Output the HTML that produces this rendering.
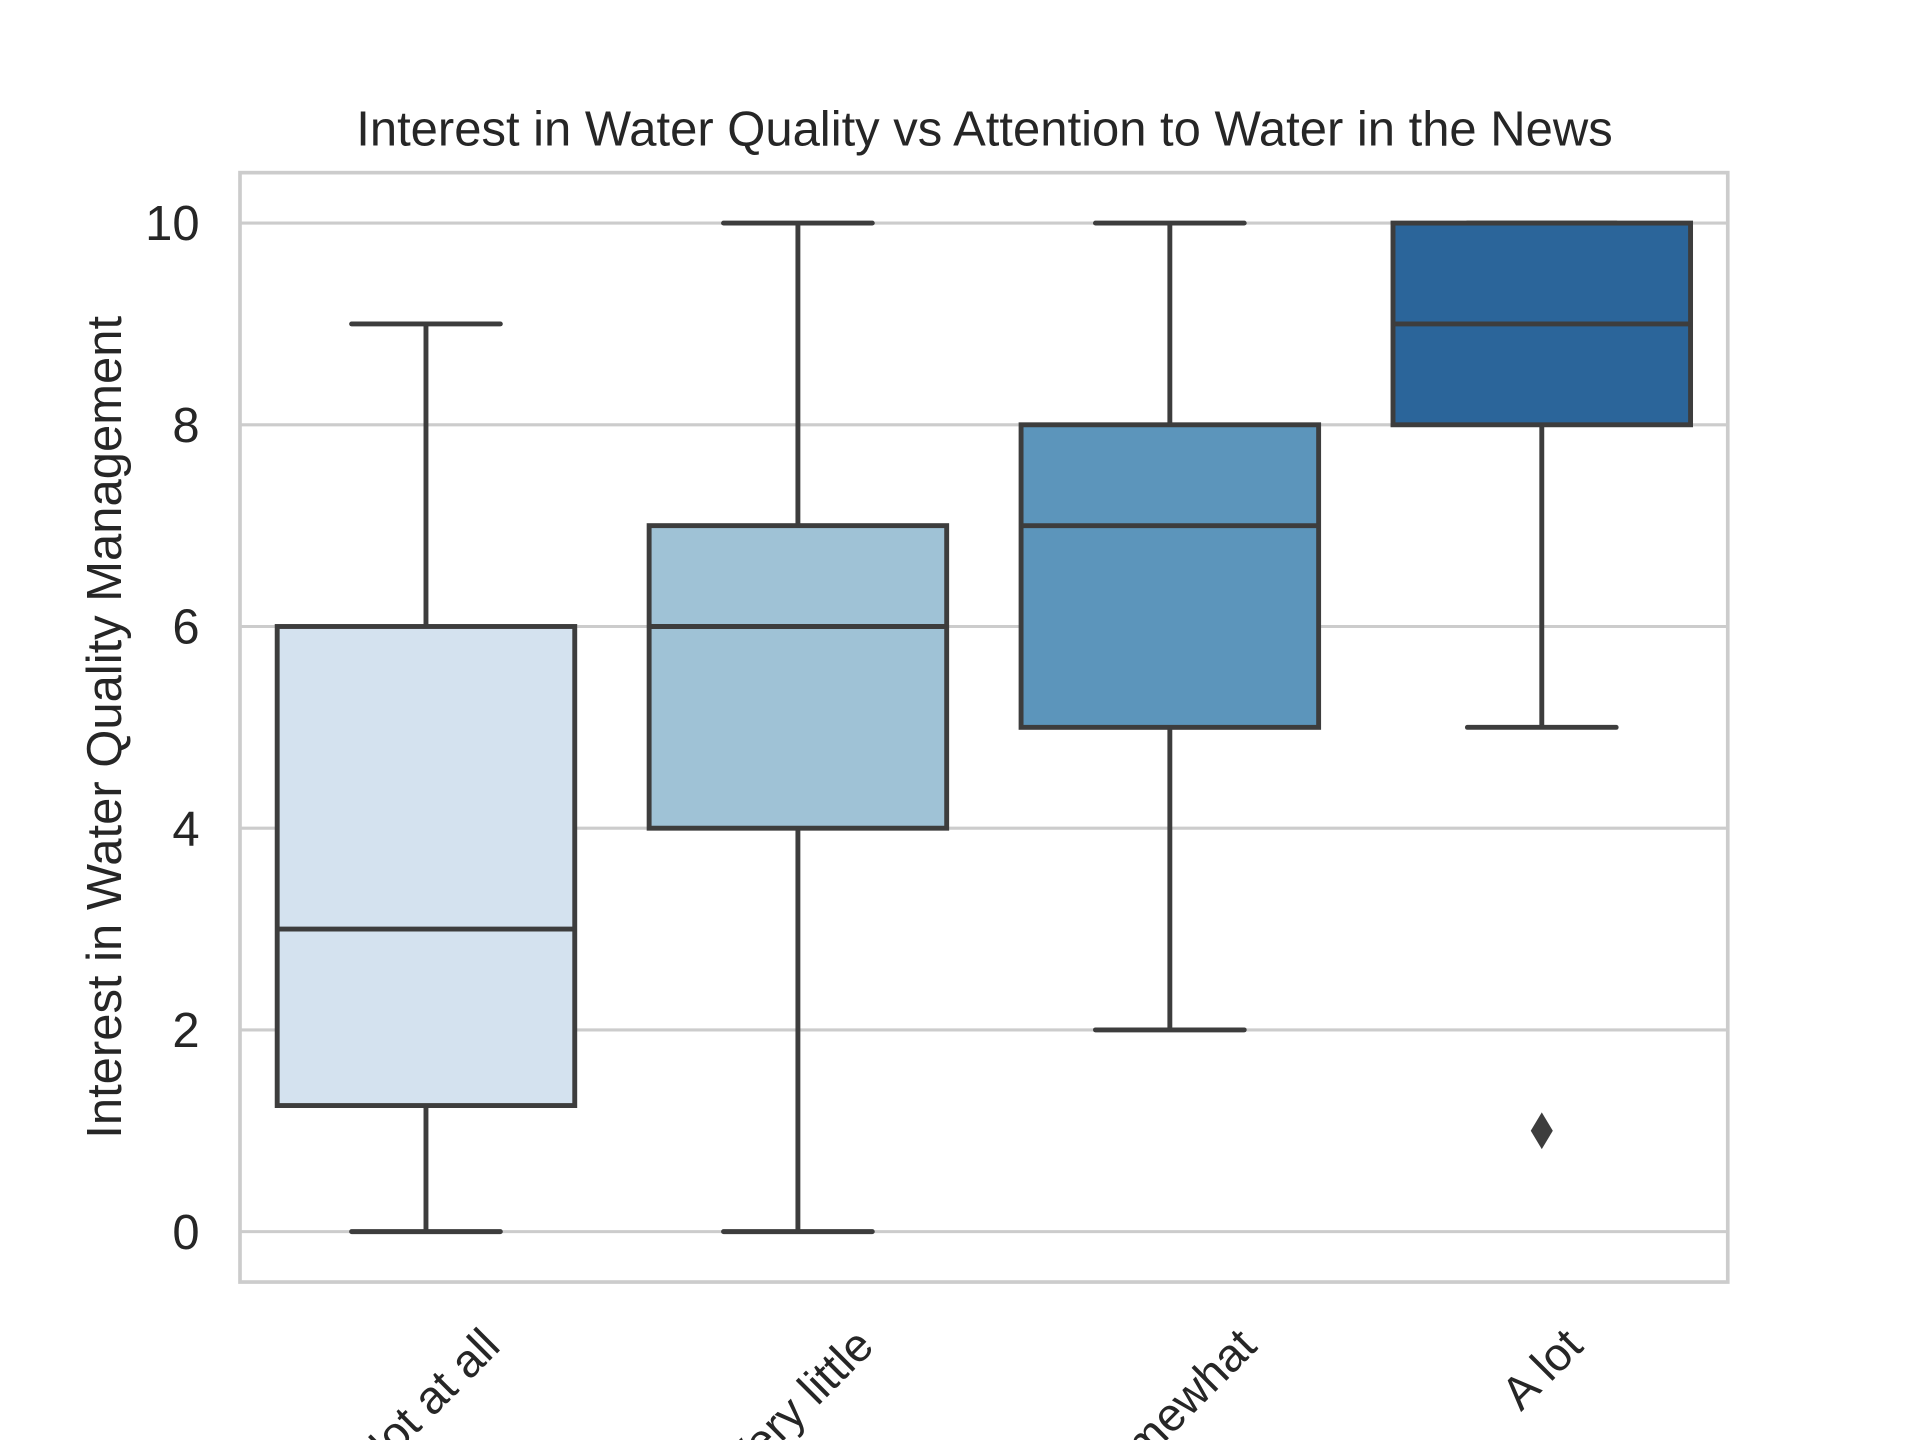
<!DOCTYPE html>
<html><head><meta charset="utf-8"><style>
html,body{margin:0;padding:0;background:#fff;}
svg{display:block;}
text{font-family:"Liberation Sans",Arial,sans-serif;fill:#262626;}
</style></head><body>
<svg id="chart" width="1920" height="1440" viewBox="0 0 1568 1176" preserveAspectRatio="none" xmlns="http://www.w3.org/2000/svg">
<rect x="0" y="0" width="1568" height="1176" fill="#fff"/>
<text x="804" y="119" font-size="40" text-anchor="middle">Interest in Water Quality vs Attention to Water in the News</text>
<g id="grid"></g>
<g id="boxes"></g>
<rect x="196" y="141" width="1215" height="906" fill="none" stroke="#cccccc" stroke-width="3"/>
<g id="yticks"></g>
<g id="xticks"></g>
<text transform="translate(99,594) rotate(-90)" font-size="40" text-anchor="middle">Interest in Water Quality Management</text>
</svg>
<script>
const categories = ["Not at all", "Very little", "Somewhat", "A lot"];
const mins = [0, 0, 2, 5];
const q1s = [1.25, 4, 5, 8];
const medians = [3, 6, 7, 9];
const q3s = [6, 7, 8, 10];
const maxs = [9, 10, 10, 10];
const outlierCats = [3];
const outlierVals = [1];
const yTicks = [0, 2, 4, 6, 8, 10];
const colors = ["#d4e2ef", "#9fc2d6", "#5c95bb", "#2b659a"];

const NS = "http://www.w3.org/2000/svg";
const X0 = 196, X1 = 1411, Y0v = -0.5, Y1v = 10.5, YT = 141, YB = 1047;
function xScale(i){ return X0 + (X1 - X0) * (i + 0.5) / categories.length; }
function yScale(v){ return YB - (v - Y0v) / (Y1v - Y0v) * (YB - YT); }
const bw = (X1 - X0) / categories.length * 0.8;
function mk(tag, attrs, parent){ const e = document.createElementNS(NS, tag); for (const k in attrs) e.setAttribute(k, attrs[k]); parent.appendChild(e); return e; }

const grid = document.getElementById("grid");
const yt = document.getElementById("yticks");
yTicks.forEach(t => {
  const l = mk("line", {x1: X0, x2: X1, y1: yScale(t), y2: yScale(t), stroke: "#cccccc", "stroke-width": 2.5}, grid);
  
  
  const tx = mk("text", {x: 163, y: yScale(t) + 14, "font-size": 40, "text-anchor": "end"}, yt);
  tx.textContent = t;
  
  
});

const boxes = document.getElementById("boxes");
const st = {stroke: "#3d3d3d", "stroke-width": 4, fill: "none"};
categories.forEach((c, i) => {
  const cx = xScale(i);
  const g = mk("g", {}, boxes);
  
  
  mk("line", Object.assign({x1: cx, x2: cx, y1: yScale(q1s[i]), y2: yScale(mins[i])}, st), g);
  mk("line", Object.assign({x1: cx, x2: cx, y1: yScale(q3s[i]), y2: yScale(maxs[i])}, st), g);
  mk("line", Object.assign({x1: cx - bw/4, x2: cx + bw/4, y1: yScale(mins[i]), y2: yScale(mins[i]), "stroke-linecap": "round"}, st), g);
  mk("line", Object.assign({x1: cx - bw/4, x2: cx + bw/4, y1: yScale(maxs[i]), y2: yScale(maxs[i]), "stroke-linecap": "round"}, st), g);
  mk("rect", {x: cx - bw/2, y: yScale(q3s[i]), width: bw, height: yScale(q1s[i]) - yScale(q3s[i]), fill: colors[i], stroke: "#3d3d3d", "stroke-width": 4}, g);
  mk("line", Object.assign({x1: cx - bw/2, x2: cx + bw/2, y1: yScale(medians[i]), y2: yScale(medians[i])}, st), g);
  const tx = mk("text", {"font-size": 38, "text-anchor": "middle"}, document.getElementById("xticks"));
  tx.textContent = c;
  
  
  const w = tx.getComputedTextLength();
  const h = 28;
  const half = (w + h) * 0.7071 / 2;
  const cy = 1082 + half;
  tx.setAttribute("transform", "translate(" + cx + "," + cy + ") rotate(-45)");
  tx.setAttribute("y", 13);
});
outlierCats.forEach((ci, k) => {
  const cx = xScale(ci), cy = yScale(outlierVals[k]);
  const p = mk("polygon", {points: `${cx},${cy-15} ${cx+9},${cy} ${cx},${cy+15} ${cx-9},${cy}`, fill: "#3d3d3d"}, boxes);
  
  
});
</script>
</body></html>
